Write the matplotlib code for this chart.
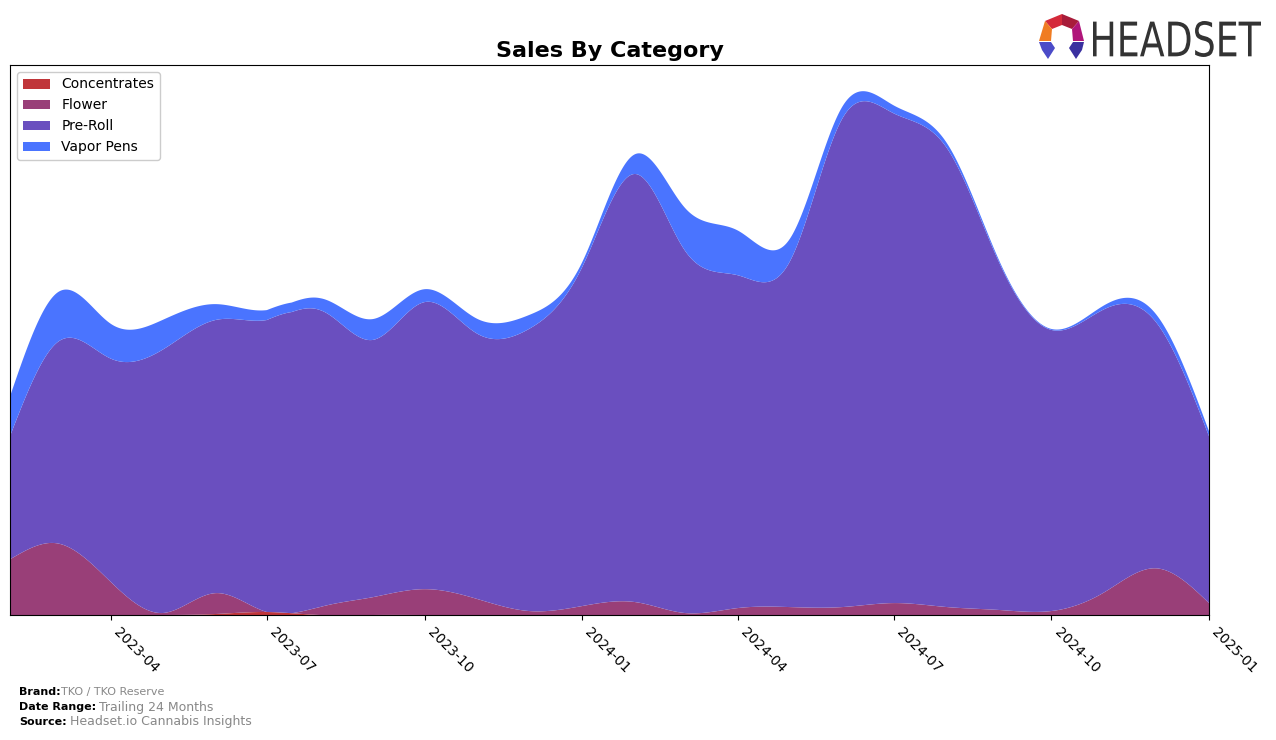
import numpy as np
import pandas as pd
import matplotlib
matplotlib.use("Agg")
import matplotlib.pyplot as plt
import matplotlib.dates as mdates
from matplotlib.textpath import TextPath
from matplotlib.patches import PathPatch, Polygon
from matplotlib.font_manager import FontProperties
from matplotlib.transforms import Affine2D, IdentityTransform

# ---------------- data (monthly) ----------------
months = pd.date_range("2023-02-01", "2025-01-01", freq="MS")
categories = ["Concentrates", "Flower", "Pre-Roll", "Vapor Pens"]
concentrates = [0, 0, 0, 0, 1, 3, 0, 0, 0, 0, 0, 0, 0, 0, 0, 0, 0, 0, 0, 0, 0, 0, 0, 0]
flower = [56, 72, 33, 2, 21, 0, 8, 18, 26, 16, 4, 9, 13, 2, 7, 8, 8, 12, 8, 5, 4, 23, 47, 12]
pre_roll = [124, 203, 225, 265, 275, 294, 299, 259, 289, 267, 284, 341, 431, 365, 335, 347,
            492, 493, 462, 348, 283, 285, 248, 168]
vapor_pens = [40, 50, 35, 30, 16, 10, 12, 21, 13, 15, 14, 5, 20, 43, 45, 23, 12, 8, 5, 2, 1, 4, 8, 5]
colors = ["#C0353A", "#993F78", "#6A4FBF", "#4A74FF"]

brand = "TKO / TKO Reserve"
date_range = "Trailing 24 Months"
source = "Headset.io Cannabis Insights"


def natural_spline(x, y, xn):
    x = np.asarray(x, float)
    y = np.asarray(y, float)
    n = len(x)
    h = np.diff(x)
    A = np.zeros((n, n))
    b = np.zeros(n)
    A[0, 0] = 1
    A[-1, -1] = 1
    for i in range(1, n - 1):
        A[i, i - 1] = h[i - 1]
        A[i, i] = 2 * (h[i - 1] + h[i])
        A[i, i + 1] = h[i]
        b[i] = 6 * ((y[i + 1] - y[i]) / h[i] - (y[i] - y[i - 1]) / h[i - 1])
    M = np.linalg.solve(A, b)
    idx = np.clip(np.searchsorted(x, xn) - 1, 0, n - 2)
    x0, x1 = x[idx], x[idx + 1]
    hh = x1 - x0
    t0 = x1 - xn
    t1 = xn - x0
    return (M[idx] * t0 ** 3 / (6 * hh) + M[idx + 1] * t1 ** 3 / (6 * hh)
            + (y[idx] / hh - M[idx] * hh / 6) * t0
            + (y[idx + 1] / hh - M[idx + 1] * hh / 6) * t1)


xnum = mdates.date2num(months.to_pydatetime())
xs = np.linspace(xnum[0], xnum[-1], 1500)
series = [concentrates, flower, pre_roll, vapor_pens]
smooth = [np.clip(natural_spline(xnum, s, xs), 0, None) for s in series]

# ---------------- figure ----------------
W, H = 1276, 740
fig = plt.figure(figsize=(W / 100, H / 100), dpi=100)
ax = fig.add_axes([10 / W, 1 - 615 / H, (1209 - 10) / W, (615 - 65) / H])

ax.stackplot(xs, *smooth, labels=categories, colors=colors)
total = np.sum(smooth, axis=0)
ax.set_xlim(xnum[0], xnum[-1])
ax.set_ylim(0, total.max() * 1.05)
ax.set_yticks([])
ax.xaxis.set_major_locator(mdates.MonthLocator(bymonth=[1, 4, 7, 10]))
ax.xaxis.set_major_formatter(mdates.DateFormatter("%Y-%m"))
for lab in ax.get_xticklabels():
    lab.set_rotation(-45)
    lab.set_ha("left")
ax.tick_params(axis="x", labelsize=10)

ax.set_title("Sales By Category", fontsize=16, fontweight="bold", pad=6)
ax.legend(loc="upper left", fontsize=10, framealpha=1)

# ---------------- footer ----------------
fs = 8
fig.text(19 / W, 1 - 692 / H, "Brand:", fontsize=fs, fontweight="bold", va="center")
fig.text(61 / W, 1 - 692 / H, brand, fontsize=fs, color="#888888", va="center")
fig.text(19 / W, 1 - 707 / H, "Date Range:", fontsize=fs, fontweight="bold", va="center")
fig.text(99 / W, 1 - 707 / H, date_range, fontsize=fs + 1, color="#888888", va="center")
fig.text(19 / W, 1 - 722 / H, "Source:", fontsize=fs, fontweight="bold", va="center")
fig.text(70 / W, 1 - 722 / H, source, fontsize=fs + 1, color="#888888", va="center")

# ---------------- logo ----------------
tp = TextPath((0, 0), "HEADSET", size=1, prop=FontProperties(family="DejaVu Sans"))
ext = tp.get_extents()
tx0, tx1, ty0, ty1 = 1093, 1261, 21, 57  # pixel box (y from top)
sx = (tx1 - tx0) / ext.width
sy = (ty1 - ty0) / ext.height
tr = Affine2D().translate(-ext.x0, -ext.y0).scale(sx, sy).translate(tx0, H - ty1)
fig.patches.append(PathPatch(tr.transform_path(tp), facecolor="#333333", edgecolor="none",
                             transform=IdentityTransform(), figure=fig))

O0, O1, O2, O5, O6 = (1062, 14), (1079, 21), (1084, 41), (1039, 41), (1045, 21)
I0, I1, I2, I5, I6 = (1062, 25), (1072, 29), (1073, 41), (1051, 41), (1052, 29)
logo_parts = [
    ([O6, O0, I0, I6], "#D42A3A"),
    ([O0, O1, I1, I0], "#A81C3A"),
    ([O1, O2, I2, I1], "#B0157A"),
    ([O5, O6, I6, I5], "#F07C22"),
    ([(1039, 42), (1051, 42), (1055, 48), (1048, 59), (1042, 50)], "#4B4BC8"),
    ([(1084, 42), (1073, 42), (1069, 48), (1076, 59), (1082, 50)], "#3A30A0"),
]
for pts, c in logo_parts:
    fig.patches.append(Polygon([(px, H - py) for px, py in pts], closed=True, facecolor=c,
                               edgecolor="none", transform=IdentityTransform(), figure=fig))

fig.savefig("out.png", dpi=100)
